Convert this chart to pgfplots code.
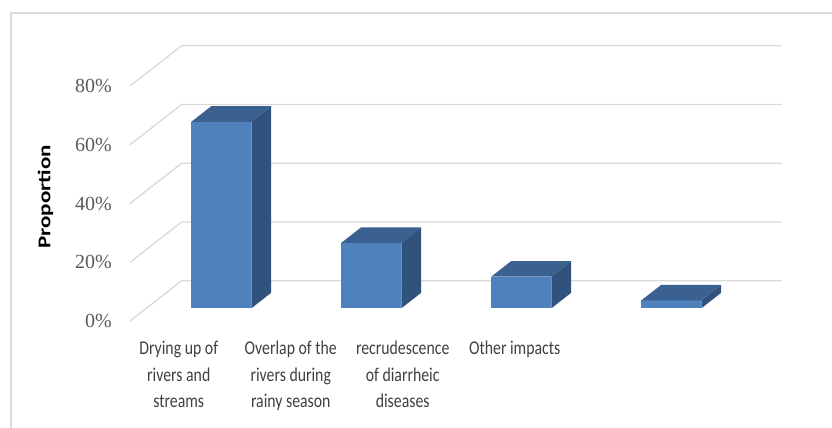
\documentclass[border=0pt]{standalone}
\usepackage{fontspec}
\setmainfont{Carlito}
\newfontfamily\catfont[FakeStretch=0.81]{Carlito}
\newfontfamily\numfont{Liberation Serif}
\usepackage{pgfplots}
\usepackage{pgfplotstable}
\pgfplotsset{compat=1.18}

\definecolor{barfront}{HTML}{4F81BD}
\definecolor{bartop}{HTML}{3B6191}
\definecolor{barside}{HTML}{30527D}
\definecolor{gridgray}{HTML}{D9D9D9}
\definecolor{ticktext}{HTML}{595959}
\definecolor{cattext}{HTML}{404040}

% share of respondents per perceived impact (%)
\pgfplotstableread{
k v
0 63.5
1 22.3
2 10.8
3 2.7
}\impacts

% oblique depth of the floor: (0.3447, 13.72) in axis units;
% the bars run from depth 0.315 (front face) to 0.70 (back face)
\def\fdx{0.1086}\def\fdy{4.32}
\def\bdx{0.2413}\def\bdy{9.61}

\begin{document}
\begin{tikzpicture}
\path[use as bounding box] (0,0) rectangle (832bp,-428bp);
\draw[gridgray, line width=1.4bp] (11bp,-432bp) -- (11bp,-13bp) -- (836bp,-13bp);
\begin{axis}[
  at={(130bp,-321bp)}, anchor=south west,
  x=150bp, y=2.9375bp,
  xmin=0, xmax=4.35, ymin=0, ymax=94,
  enlargelimits=false, clip=false,
  axis line style={draw=none},
  major tick length=0pt,
  ytick={0,20,40,60,80},
  yticklabel={\pgfmathprintnumber{\tick}\%},
  /pgf/number format/assume math mode=true,
  yticklabel style={font=\numfont\fontsize{20bp}{20bp}\selectfont, text=ticktext,
    anchor=east, inner sep=0pt, xshift=-18bp},
  xtick={0.325,1.0717,1.818,2.565},
  xticklabels={{Drying up of\\rivers and\\streams},{Overlap of the\\rivers during\\rainy season},{recrudescence\\of diarrheic\\diseases},{Other impacts}},
  xticklabel style={font=\catfont\fontsize{19.5bp}{26.5bp}\selectfont, text=cattext,
    align=center, anchor=north, inner sep=0pt, yshift=-20bp},
  ylabel={\scalebox{1}[0.78]{Proportion}},
  ylabel style={at={(axis description cs:-0.1295,0.449)}, anchor=center,
    font=\fontsize{23bp}{23bp}\selectfont\bfseries},
]
% side wall and back wall gridlines
\addplot[gridgray, line width=1.3bp] coordinates {(0,0) (0.3447,13.72) (4.3447,13.72)};
\addplot[gridgray, line width=1.3bp] coordinates {(0,20) (0.3447,33.72) (4.3447,33.72)};
\addplot[gridgray, line width=1.3bp] coordinates {(0,40) (0.3447,53.72) (4.3447,53.72)};
\addplot[gridgray, line width=1.3bp] coordinates {(0,60) (0.3447,73.72) (4.3447,73.72)};
\addplot[gridgray, line width=1.3bp] coordinates {(0,80) (0.3447,93.72) (4.3447,93.72)};

% 3D bars: front, top and right faces
\pgfplotsinvokeforeach{0,1,2,3}{
  \pgfplotstablegetelem{#1}{v}\of\impacts
  \let\val\pgfplotsretval
  \pgfmathsetmacro\xl{#1+0.3+\fdx}
  \pgfmathsetmacro\xr{#1+0.7+\fdx}
  \pgfmathsetmacro\xlb{#1+0.3+\bdx}
  \pgfmathsetmacro\xrb{#1+0.7+\bdx}
  \pgfmathsetmacro\yt{\val+\fdy}
  \pgfmathsetmacro\ytb{\val+\bdy}
  \addplot[fill=barfront, draw=none] coordinates {(\xl,\fdy) (\xr,\fdy) (\xr,\yt) (\xl,\yt)};
  \addplot[fill=bartop, draw=none] coordinates {(\xl,\yt) (\xr,\yt) (\xrb,\ytb) (\xlb,\ytb)};
  \addplot[fill=barside, draw=none] coordinates {(\xr,\fdy) (\xrb,\bdy) (\xrb,\ytb) (\xr,\yt)};
}
\end{axis}
\end{tikzpicture}
\end{document}
